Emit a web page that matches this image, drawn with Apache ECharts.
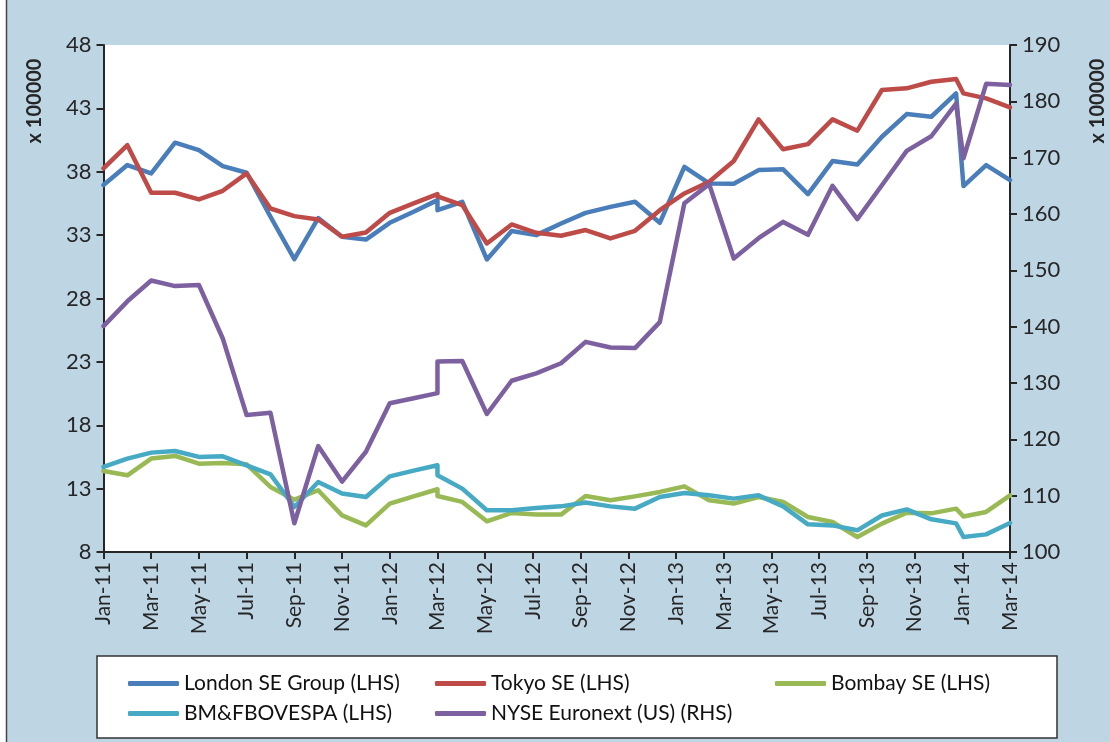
<!DOCTYPE html>
<html>
<head>
<meta charset="utf-8">
<title>Exchanges</title>
<script src="https://cdn.jsdelivr.net/npm/echarts@6/dist/echarts.min.js"></script>
<style>
  html, body { margin: 0; padding: 0; background: #fff; }
  #main { width: 1110px; height: 742px; }
</style>
</head>
<body>
<div id="main"></div>
<script>
// x position of each observation, in months after Jan-11 (Mar-12 and Dec-13/Jan-14 have two points close together)
var xPos = [0, 1, 2, 3, 4, 5, 6, 7, 8, 9, 10, 11, 12, 13, 14,
  14, 15.04, 16.07, 17.11, 18.14, 19.18, 20.21, 21.25, 22.28, 23.32, 24.35,
  25.39, 26.42, 27.46, 28.49, 29.53, 30.56, 31.6, 32.63, 33.67, 34.7, 35.74,
  36.05, 37, 38];

var xLabels = ['Jan-11', 'Mar-11', 'May-11', 'Jul-11', 'Sep-11', 'Nov-11', 'Jan-12', 'Mar-12',
  'May-12', 'Jul-12', 'Sep-12', 'Nov-12', 'Jan-13', 'Mar-13', 'May-13', 'Jul-13', 'Sep-13',
  'Nov-13', 'Jan-14', 'Mar-14'];

// left hand side, x 100000
var london = [36.95, 38.53, 37.87, 40.29, 39.71, 38.45, 37.92, 34.45, 31.1, 34.34,
  32.87, 32.65, 33.97, 34.84, 35.76, 34.97,
  35.63, 31.08, 33.32, 33.0, 33.92, 34.76, 35.23, 35.63, 33.97, 38.39,
  37.08, 37.05, 38.13, 38.19, 36.24, 38.84, 38.58, 40.76, 42.55, 42.34, 44.18,
  36.87, 38.53, 37.34];
var tokyo = [38.27, 40.1, 36.34, 36.34, 35.82, 36.5, 37.87, 35.1, 34.5, 34.24,
  32.87, 33.2, 34.76, 35.5, 36.24, 36.05,
  35.37, 32.34, 33.84, 33.18, 32.95, 33.4, 32.74, 33.34, 34.97, 36.29,
  37.21, 38.85, 42.13, 39.77, 40.18, 42.13, 41.24, 44.45, 44.58, 45.1, 45.32,
  44.18, 43.79, 43.08];
var bombay = [14.39, 14.05, 15.37, 15.58, 14.97, 15.03, 14.92, 13.13, 12.13, 12.87,
  10.89, 10.1, 11.82, 12.39, 12.95, 12.42,
  11.95, 10.42, 11.08, 10.95, 10.95, 12.42, 12.08, 12.39, 12.74, 13.18,
  12.08, 11.82, 12.34, 11.95, 10.76, 10.37, 9.18, 10.24, 11.1, 11.05, 11.42,
  10.8, 11.16, 12.47];
var bovespa = [14.71, 15.37, 15.84, 15.97, 15.5, 15.55, 14.84, 14.13, 11.55, 13.52,
  12.61, 12.34, 13.97, 14.42, 14.84, 14.05,
  13.0, 11.29, 11.29, 11.47, 11.6, 11.9, 11.6, 11.42, 12.34, 12.66,
  12.47, 12.21, 12.47, 11.6, 10.18, 10.1, 9.71, 10.88, 11.36, 10.58, 10.26,
  9.18, 9.39, 10.29];
// right hand side, x 100000
var nyse = [140.1, 144.5, 148.2, 147.2, 147.4, 137.9, 124.3, 124.7, 105.1, 118.8,
  112.5, 117.8, 126.4, 127.3, 128.2, 133.8,
  133.9, 124.5, 130.4, 131.7, 133.5, 137.3, 136.3, 136.2, 140.8, 161.9,
  165.3, 152.1, 155.7, 158.6, 156.3, 165.0, 159.1, 165.1, 171.2, 173.8, 179.6,
  169.9, 183.1, 182.9];

var names = ['London SE Group (LHS)', 'Tokyo SE (LHS)', 'Bombay SE (LHS)', 'BM&FBOVESPA (LHS)', 'NYSE Euronext (US) (RHS)'];
var colors = ['#4A7EBB', '#BE4B48', '#98B954', '#46AAC5', '#7D60A0'];
var values = [london, tokyo, bombay, bovespa, nyse];

var font = 'Lato, "Open Sans", sans-serif';
var ink = '#262626';

function pairs(vals) {
  return xPos.map(function (x, i) { return [x, vals[i]]; });
}

var series = values.map(function (vals, i) {
  return {
    name: names[i],
    type: 'line',
    yAxisIndex: i === 4 ? 1 : 0,
    data: pairs(vals),
    symbol: 'none',
    animation: false,
    lineStyle: { color: colors[i], width: 4.5, join: 'round', cap: 'round' },
    itemStyle: { color: colors[i] }
  };
});

// one legend per slot so it can sit in the same 3 column layout
var slots = [[128, 673], [435, 673], [775, 673], [128, 703], [435, 703]];
var legends = slots.map(function (s, i) {
  return {
    data: [names[i]],
    left: s[0], top: s[1],
    padding: 0,
    icon: 'roundRect',
    itemWidth: 51, itemHeight: 5,
    textStyle: { fontFamily: font, fontSize: 21, color: '#111' }
  };
});

var yAxisStyle = {
  type: 'value',
  splitLine: { show: false },
  axisLine: { show: true, lineStyle: { color: ink, width: 2 } },
  axisTick: { show: true, length: 7, lineStyle: { color: ink, width: 2 } },
  axisLabel: { fontFamily: font, fontSize: 22, color: ink, margin: 12 }
};

var option = {
  backgroundColor: '#BED5E4',
  animation: false,
  grid: { left: 103.5, right: 100, top: 45, bottom: 190, show: true,
    backgroundColor: '#ffffff', borderWidth: 0 },
  legend: legends,
  xAxis: {
    type: 'value', min: 0, max: 38, interval: 2,
    splitLine: { show: false },
    axisLine: { lineStyle: { color: ink, width: 2 } },
    axisTick: { show: true, length: 7, lineStyle: { color: ink, width: 2 } },
    axisLabel: {
      rotate: 90, fontFamily: font, fontSize: 21, color: ink, margin: 10,
      formatter: function (v) { return xLabels[Math.round(v / 2)]; }
    }
  },
  yAxis: [
    Object.assign({}, yAxisStyle, { min: 8, max: 48, interval: 5, position: 'left' }),
    Object.assign({}, yAxisStyle, { min: 100, max: 190, interval: 10, position: 'right' })
  ],
  series: series,
  graphic: [
    { type: 'rect', left: 0, top: 0, shape: { width: 6, height: 742 }, style: { fill: '#fff' } },
    { type: 'line', shape: { x1: 6.5, y1: 0, x2: 6.5, y2: 742 }, style: { stroke: '#444', lineWidth: 1.5 } },
    { type: 'rect', shape: { x: 97, y: 656, width: 960, height: 82 },
      style: { fill: '#fff', stroke: '#333', lineWidth: 1.5 }, z: -1 },
    { type: 'text', x: 35, y: 101, rotation: Math.PI / 2,
      style: { text: 'x 100000', fontFamily: font, fontSize: 20, fontWeight: 'bold', fill: ink,
        textAlign: 'center', textVerticalAlign: 'middle' } },
    { type: 'text', x: 1098, y: 101, rotation: Math.PI / 2,
      style: { text: 'x 100000', fontFamily: font, fontSize: 20, fontWeight: 'bold', fill: ink,
        textAlign: 'center', textVerticalAlign: 'middle' } }
  ]
};

var myChart = echarts.init(document.getElementById('main'));
myChart.setOption(option);
</script>
</body>
</html>
